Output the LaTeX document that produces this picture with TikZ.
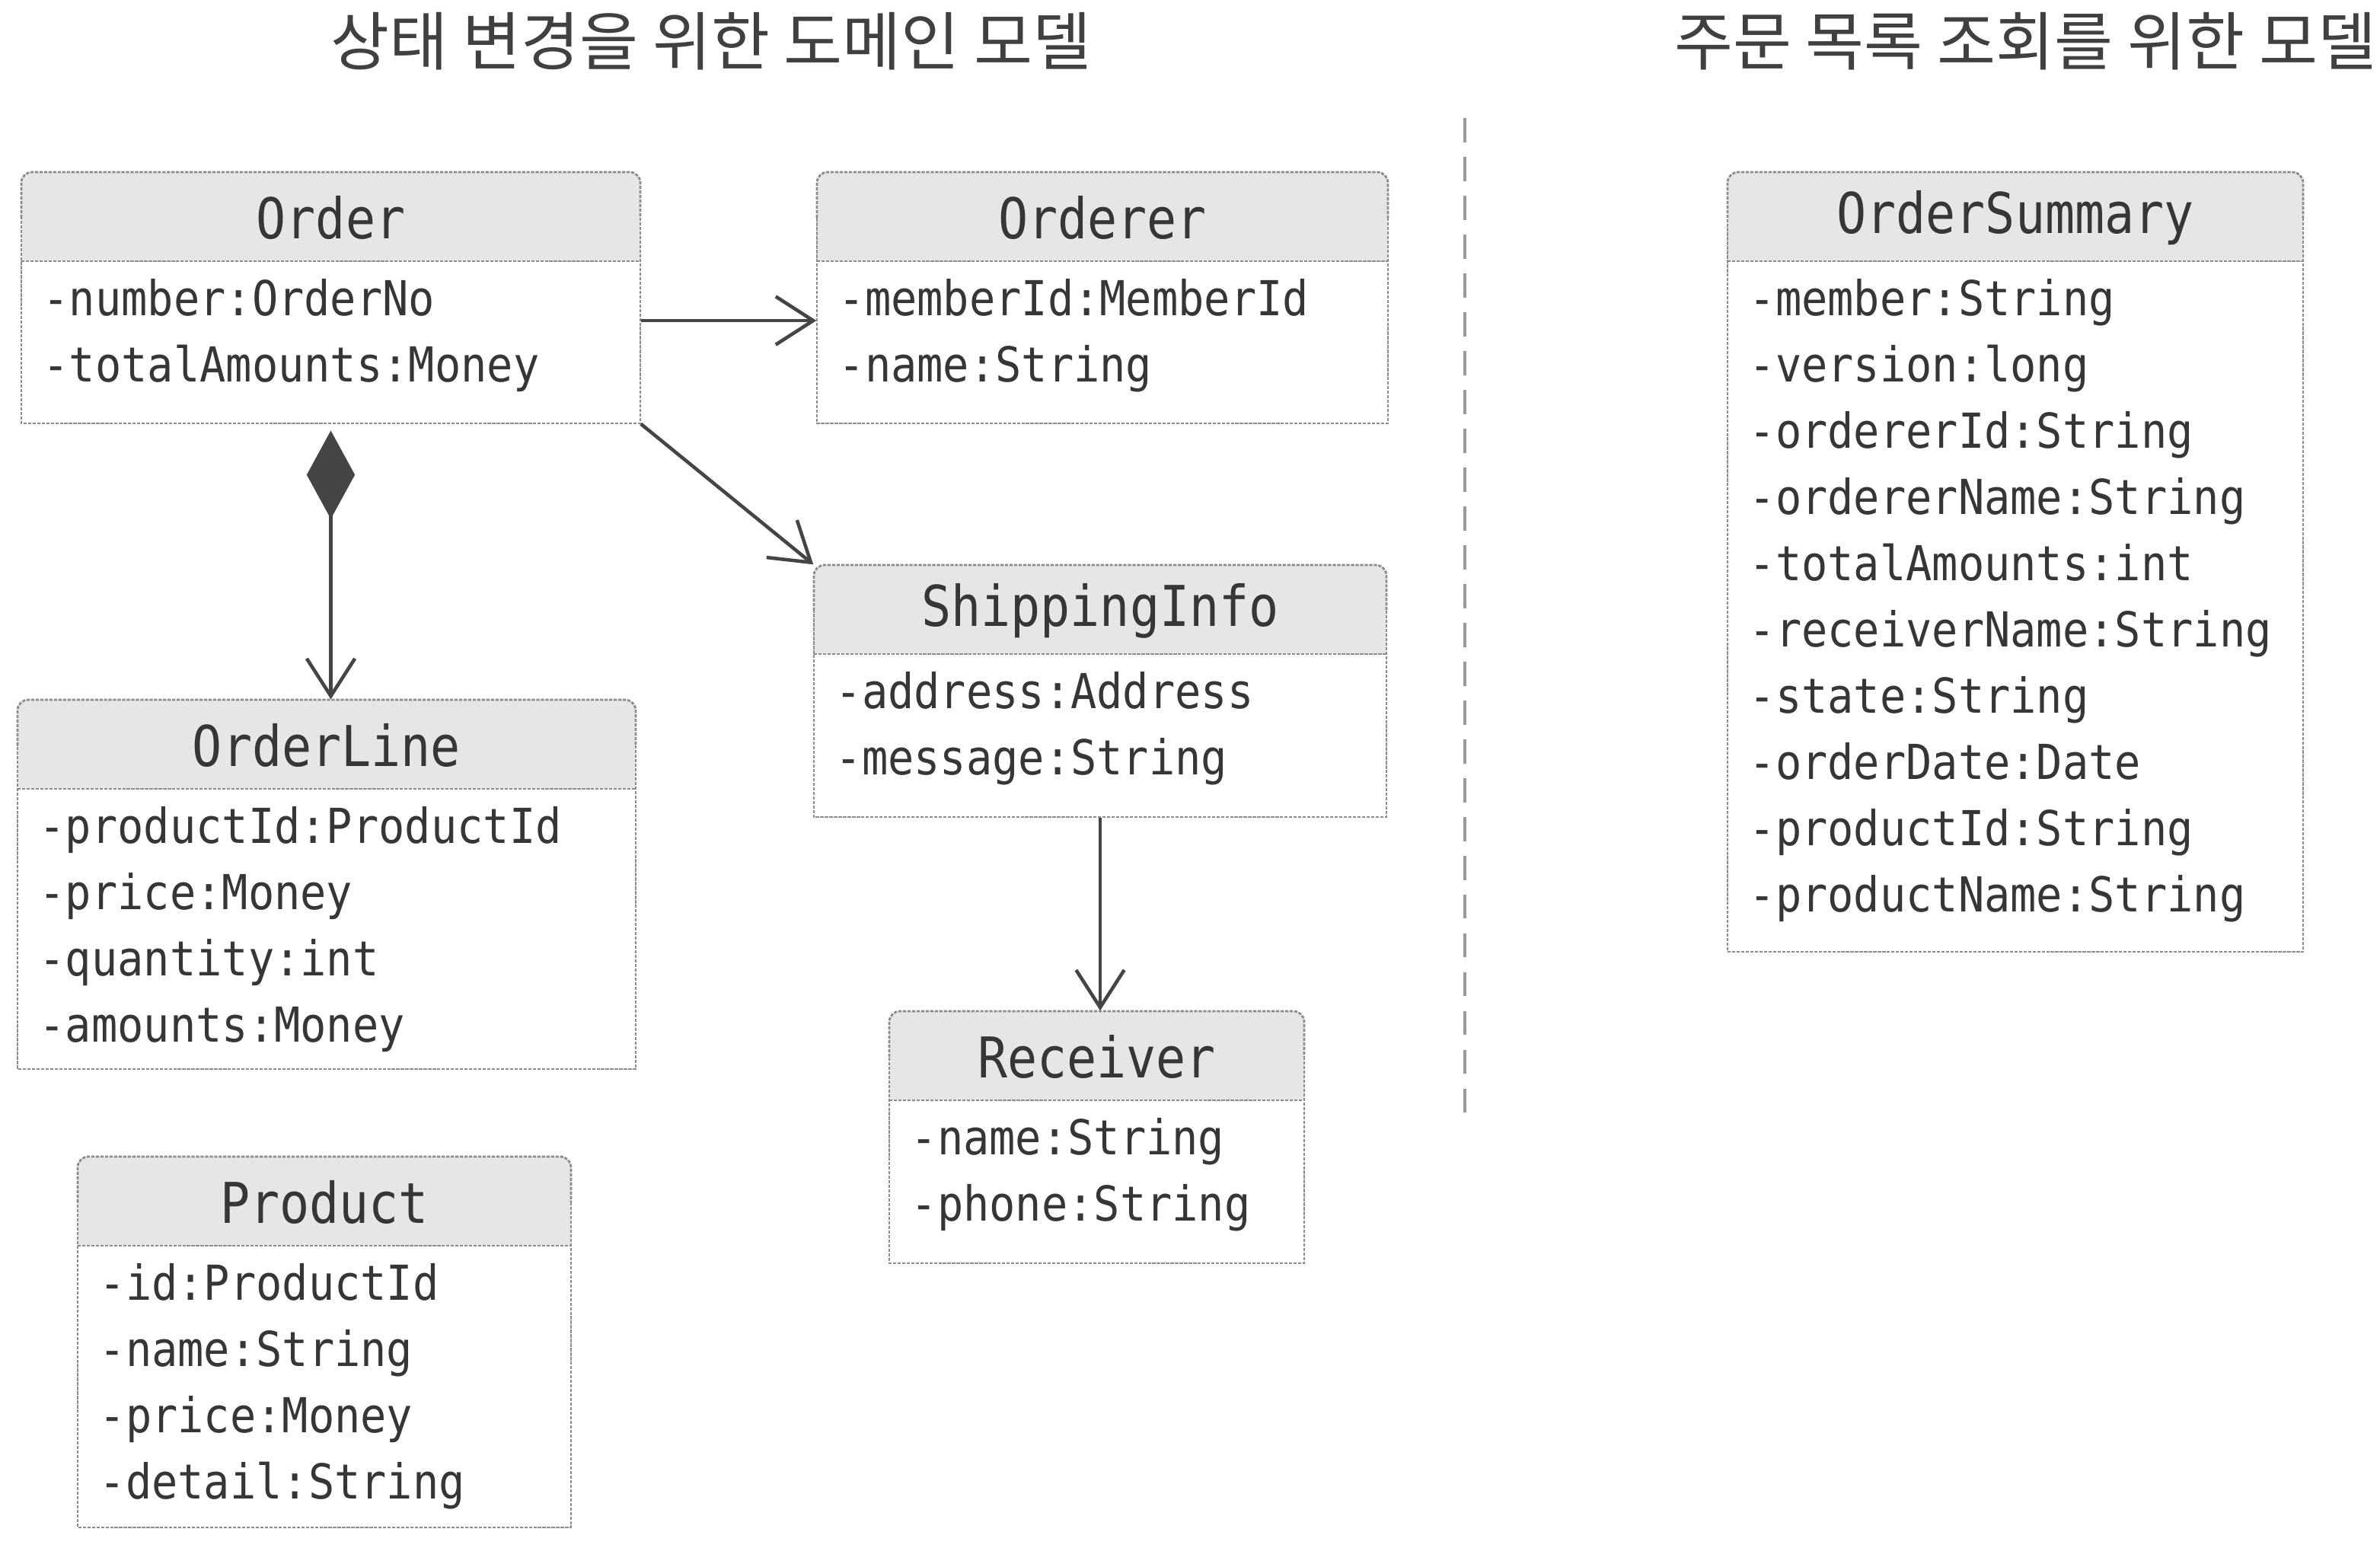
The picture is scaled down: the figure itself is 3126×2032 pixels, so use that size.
\documentclass[tikz,border=0pt]{standalone}
\usepackage{fontspec}
\usetikzlibrary{arrows.meta,fit}
\newfontfamily\monof[FakeStretch=0.9]{DejaVu Sans Mono}
\newfontfamily\montf[FakeStretch=0.88]{DejaVu Sans Mono}
\newfontfamily\korf{Noto Sans CJK KR}
\definecolor{ink}{HTML}{363636}
\definecolor{korink}{HTML}{404040}
\definecolor{headgray}{HTML}{E6E6E6}
\definecolor{bordergray}{HTML}{8C8C8C}
\definecolor{linegray}{HTML}{454545}
\definecolor{divgray}{HTML}{9A9A9A}
\tikzset{
  headfill/.style={fill=headgray},
  boxline/.style={draw=bordergray, line width=0.8pt, dash pattern=on 1.2pt off 0.5pt},
  titletext/.style={anchor=center, inner sep=0pt, text=ink, font=\montf\fontsize{21pt}{24pt}\selectfont},
  attrtext/.style={anchor=west, inner sep=0pt, text=ink, text height=0.76em, text depth=0.24em, font=\monof\fontsize{18pt}{21pt}\selectfont},
  kortitle/.style={anchor=center, inner sep=0pt, text=korink, font=\korf\fontsize{23.8pt}{28pt}\selectfont},
  assoc/.style={draw=linegray, line width=1.3pt, -{Straight Barb[length=14pt,width=18pt]}},
  compo/.style={draw=linegray, line width=1.3pt, {Diamond[length=33pt,width=18pt,fill=linegray]}-{Straight Barb[length=14pt,width=18pt]}},
  divider/.style={draw=divgray, line width=1.3pt, dash pattern=on 9pt off 5.5pt},
}
\newcommand{\umlbox}[7]{%
  \fill[headfill, rounded corners=4pt] (#2,#3) rectangle (#4,{#3+80});
  \fill[headfill] (#2,{#3+40}) rectangle (#4,{#3+117});
  \draw[boxline, rounded corners=4pt] (#2,{#3+60}) -- (#2,#3) -- (#4,#3) -- (#4,{#3+60});
  \draw[boxline] (#4,{#3+60}) -- (#4,#5) -- (#2,#5) -- (#2,{#3+60});
  \draw[boxline] (#2,{#3+117}) -- (#4,{#3+117});
  \coordinate (#1-nw) at (#2,#3);
  \coordinate (#1-se) at (#4,#5);
  \node[fit=(#1-nw)(#1-se), inner sep=0pt] (#1) {};
  \node[titletext] (#1-title) at ({(#2+#4)/2},{#3+60}) {#6};
  \foreach \a [count=\i from 0] in {#7}
    \node[attrtext] (#1-a\i) at ({#2+28},{#3+117+62+87*\i}) {\a};
}
\begin{document}
\begin{tikzpicture}[x=0.01cm,y=-0.01cm]
\useasboundingbox[fill=white] (0,0) rectangle (3126,2032);

\node[kortitle] (t1) at (934,54) {상태 변경을 위한 도메인 모델};
\node[kortitle] (t2) at (2660,54) {주문 목록 조회를 위한 모델};

\umlbox{order}{28}{226}{841}{556}{Order}{-number:OrderNo,-totalAmounts:Money}
\umlbox{orderer}{1073}{226}{1823}{556}{Orderer}{-memberId:MemberId,-name:String}
\umlbox{shipping}{1069}{742}{1821}{1073}{ShippingInfo}{-address:Address,-message:String}
\umlbox{receiver}{1168}{1328}{1713}{1659}{Receiver}{-name:String,-phone:String}
\umlbox{orderline}{23}{919}{835}{1404}{OrderLine}{-productId:ProductId,-price:Money,-quantity:int,-amounts:Money}
\umlbox{product}{102}{1519}{750}{2006}{Product}{-id:ProductId,-name:String,-price:Money,-detail:String}
\umlbox{summary}{2269}{226}{3025}{1250}{OrderSummary}{-member:String,-version:long,-ordererId:String,-ordererName:String,-totalAmounts:int,-receiverName:String,-state:String,-orderDate:Date,-productId:String,-productName:String}

\draw[assoc] ([yshift=-0.3cm]order.east) -- ([yshift=-0.3cm]orderer.west);
\draw[assoc] (order.south east) -- (shipping.north west);
\draw[compo, shorten <=2.5pt] (order.south) -- (order.south |- orderline.north);
\draw[assoc] (shipping.south) -- (shipping.south |- receiver.north);

\coordinate (divtop) at (1924,155);
\coordinate (divbot) at (1924,1466);
\draw[divider] (divtop) -- (divbot);
\end{tikzpicture}
\end{document}
